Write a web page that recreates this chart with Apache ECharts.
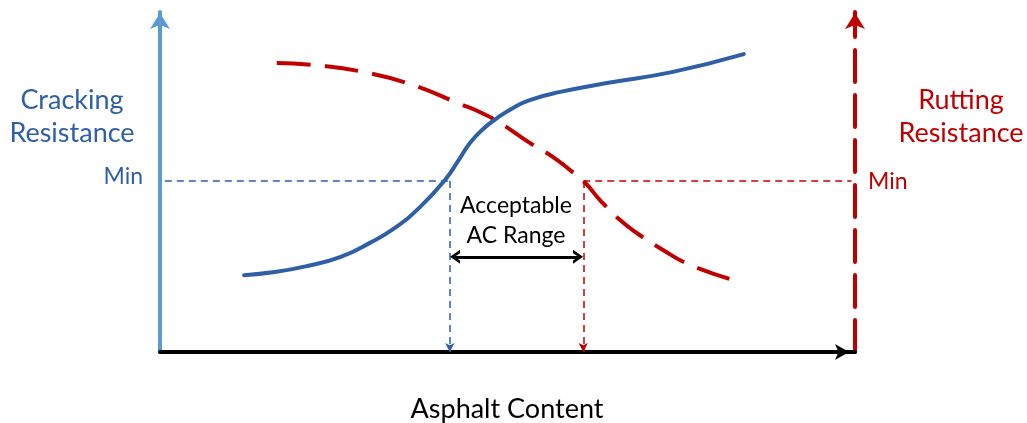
<!DOCTYPE html>
<html>
<head>
<meta charset="utf-8">
<script src="https://cdn.jsdelivr.net/npm/echarts@6/dist/echarts.min.js"></script>
<style>
  html, body { margin: 0; padding: 0; background: #fff; }
  #chart { width: 1027px; height: 423px; }
</style>
</head>
<body>
<div id="chart"></div>
<script>
// asphalt content (0-100, conceptual) and resistance (0-100, conceptual)
var crackX = [12.1, 16.5, 21.2, 25.9, 30.2, 33.8, 37.4, 41.0, 42.9, 44.6, 46.5, 48.5, 50.8, 53.2, 57.6, 64.3, 73.8, 84.0];
var crackY = [22.6, 23.5, 25.3, 27.9, 32.1, 36.5, 42.6, 50.6, 56.2, 61.5, 65.6, 68.8, 71.8, 74.1, 76.5, 79.1, 82.4, 87.6];
var ruttX = [16.8, 22.0, 29.2, 36.4, 43.2, 46.0, 48.9, 53.2, 56.5, 59.0, 61.2, 63.3, 66.2, 68.6, 71.9, 76.3, 83.5];
var ruttY = [85.0, 84.4, 82.4, 78.5, 72.9, 70.6, 67.4, 61.5, 57.4, 53.5, 49.7, 44.7, 38.8, 35.0, 30.6, 25.6, 20.6];
var minLevel = 50.3;
var acLow = 41.7;
var acHigh = 60.9;
var rangeArrowY = 28;

var BLUE = '#2f5fa7';
var LIGHTBLUE = '#5b9bd5';
var RED = '#c00000';
var FONT = 'Lato, "Open Sans", sans-serif';
var CHEVRON = 'path://M0,10 L5,0 L10,10 L7.6,10 L5,4.6 L2.4,10 Z';

function pairs(xs, ys) {
  return xs.map(function (x, i) { return [x, ys[i]]; });
}

var chart = echarts.init(document.getElementById('chart'));
chart.setOption({
  animation: false,
  grid: { left: 160, right: 172, top: 12, bottom: 71 },
  xAxis: {
    type: 'value', min: 0, max: 100,
    splitLine: { show: false }, axisTick: { show: false }, axisLabel: { show: false },
    axisLine: {
      show: true, onZero: false,
      symbol: ['none', 'arrow'], symbolSize: [12, 14], symbolOffset: [0, -6],
      lineStyle: { color: '#000', width: 4 }
    }
  },
  yAxis: [
    {
      type: 'value', min: 0, max: 100, position: 'left',
      splitLine: { show: false }, axisTick: { show: false }, axisLabel: { show: false },
      axisLine: {
        show: true, onZero: false,
        symbol: ['none', 'arrow'], symbolSize: [15, 16], symbolOffset: [0, -1],
        lineStyle: { color: LIGHTBLUE, width: 4 }
      }
    },
    {
      type: 'value', min: 0, max: 100, position: 'right',
      splitLine: { show: false }, axisTick: { show: false }, axisLabel: { show: false },
      axisLine: {
        show: true, onZero: false,
        symbol: ['none', 'arrow'], symbolSize: [15, 16], symbolOffset: [0, -1],
        lineStyle: { color: RED, width: 4, type: [32, 13] }
      }
    }
  ],
  series: [
    {
      name: 'Cracking Resistance', type: 'line', smooth: 0.5,
      showSymbol: false, z: 3,
      data: pairs(crackX, crackY),
      lineStyle: { color: BLUE, width: 4, cap: 'round' },
      markLine: {
        silent: true, symbol: ['none', 'none'], label: { show: false },
        lineStyle: { color: BLUE, width: 1.5, type: [7, 5] },
        data: [
          [{ coord: [0.7, minLevel] }, { coord: [acLow, minLevel] }],
          [{ coord: [acLow, minLevel], symbol: 'none' },
           { coord: [acLow, 0], symbol: 'arrow', symbolSize: [7, 9] }]
        ]
      }
    },
    {
      name: 'Rutting Resistance', type: 'line', smooth: 0.5,
      showSymbol: false, z: 2,
      data: pairs(ruttX, ruttY),
      lineStyle: { color: RED, width: 4, type: [34, 14] },
      markLine: {
        silent: true, symbol: ['none', 'none'], label: { show: false },
        lineStyle: { color: RED, width: 1.5, type: [7, 5] },
        data: [
          [{ coord: [acHigh, minLevel] }, { coord: [99.5, minLevel] }],
          [{ coord: [acHigh, minLevel], symbol: 'none' },
           { coord: [acHigh, 0], symbol: 'arrow', symbolSize: [7, 9] }]
        ]
      }
    },
    {
      name: 'Acceptable AC Range', type: 'line', data: [],
      markLine: {
        silent: true, label: { show: false },
        symbol: [CHEVRON, CHEVRON], symbolSize: [14, 10],
        itemStyle: { color: '#000' },
        lineStyle: { color: '#000', width: 3, type: 'solid' },
        data: [[{ coord: [acLow + 0.75, rangeArrowY] }, { coord: [acHigh - 0.75, rangeArrowY] }]]
      }
    }
  ],
  graphic: [
    { type: 'text', style: { text: 'Cracking\nResistance', x: 72, y: 84, fill: BLUE, font: '27px ' + FONT, align: 'center', lineHeight: 33 } },
    { type: 'text', style: { text: 'Min', x: 143, y: 177, fill: BLUE, font: '23px ' + FONT, align: 'right', verticalAlign: 'middle' } },
    { type: 'text', style: { text: 'Rutting\nResistance', x: 961, y: 84, fill: RED, font: '27px ' + FONT, align: 'center', lineHeight: 33 } },
    { type: 'text', style: { text: 'Min', x: 868, y: 182, fill: RED, font: '23px ' + FONT, align: 'left', verticalAlign: 'middle' } },
    { type: 'text', style: { text: 'Acceptable\nAC Range', x: 516, y: 191, fill: '#000', font: '23px ' + FONT, align: 'center', lineHeight: 30 } },
    { type: 'text', style: { text: 'Asphalt Content', x: 507, y: 409, fill: '#000', font: '27px ' + FONT, align: 'center', verticalAlign: 'middle' } }
  ]
});
</script>
</body>
</html>
